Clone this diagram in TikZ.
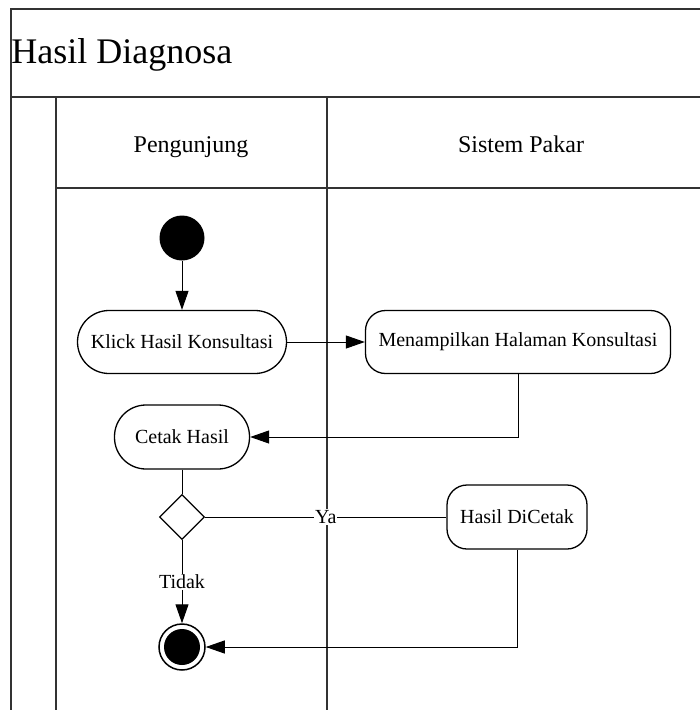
\documentclass[tikz,border=0pt]{standalone}
\usepackage{fontspec}
\setmainfont{Liberation Serif}[Ligatures=TeX]
\usetikzlibrary{arrows.meta,shapes.geometric}

\begin{document}
\begin{tikzpicture}[x=1pt,y=-1pt,->,>={Triangle[length=19pt,width=13pt]},line width=1pt,
  every node/.style={font=\rmfamily},
  lane/.style={-,draw=black!80,line width=1.5pt},
  action node/.style={draw,line width=1.3pt,rounded corners=20pt,minimum height=63pt,inner sep=0pt,font=\rmfamily\fontsize{20}{24}\selectfont},
  pill node/.style={action node,rounded corners=31.5pt},
  start node/.style={circle,fill=black,minimum size=45pt,inner sep=0pt},
  end node/.style={circle,draw,line width=1.5pt,minimum size=46pt,inner sep=0pt,path picture={\fill (path picture bounding box.center) circle (18pt);}},
  decision node/.style={diamond,draw,line width=1.3pt,aspect=1,minimum size=45pt,inner sep=0pt},
  label node/.style={fill=white,inner sep=1pt,font=\rmfamily\fontsize{20}{24}\selectfont},
  header/.style={anchor=base,inner sep=0pt,font=\rmfamily\fontsize{24}{28}\selectfont}]

  \useasboundingbox (0,0) rectangle (700,710);

  % swimlanes
  \draw[lane] (11,710) |- (700,9);
  \draw[lane] (11,97) -- (700,97);
  \draw[lane] (56,97) -- (56,710);
  \draw[lane] (56,188) -- (700,188);
  \draw[lane] (327,97) -- (327,710);

  \node[anchor=base west,inner sep=0pt,font=\rmfamily\fontsize{36}{42}\selectfont] (title) at (11,63) {Hasil Diagnosa};
  \node[header] (visitor) at (191,152) {Pengunjung};
  \node[header] (system) at (521,152) {Sistem Pakar};

  % activities
  \node[start node] (start) at (182,238) {};
  \node[pill node,minimum width=209pt] (klik) at (182,342) {Klick Hasil Konsultasi};
  \node[action node,minimum width=305pt] (tampil) at (518,342) {Menampilkan Halaman Konsultasi};
  \node[pill node,minimum width=135pt,minimum height=64pt] (cetak) at (182,437) {Cetak Hasil};
  \node[decision node] (pilih) at (182,517) {};
  \node[action node,minimum width=140pt,minimum height=64pt] (dicetak) at (517,517) {Hasil DiCetak};
  \node[end node] (akhir) at (182,647) {};

  \path
    (start) edge (klik)
    (klik) edge (tampil)
    (cetak) edge[-] (pilih)
    (pilih) edge[-] node[label node] {Ya} (dicetak)
    (pilih) edge node[label node] {Tidak} (akhir);

  \draw (tampil) |- (cetak);
  \draw (dicetak) |- (akhir);

\end{tikzpicture}
\end{document}
